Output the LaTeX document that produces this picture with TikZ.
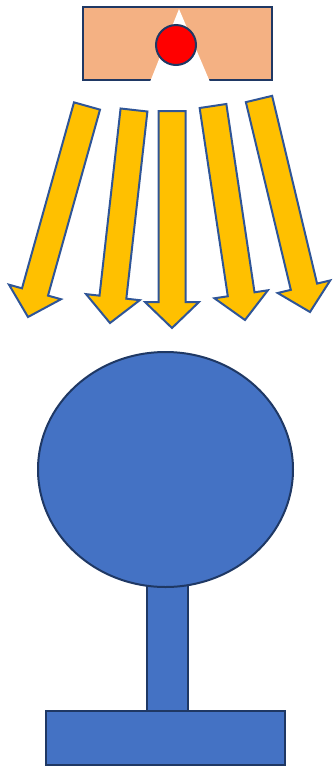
\documentclass[tikz,border=0pt]{standalone}
\usetikzlibrary{calc}
\definecolor{peach}{HTML}{F4B183}
\definecolor{navy}{HTML}{1F3864}
\definecolor{rayfill}{HTML}{FFC000}
\definecolor{rayedge}{HTML}{2F5597}
\definecolor{bodyblue}{HTML}{4472C4}
\tikzset{
  lamp/.style={fill=peach, draw=navy, line width=2.6pt},
  bulb/.style={fill=red, draw=navy, line width=2pt},
  ray/.style={fill=rayfill, draw=rayedge, line width=2pt, line join=miter},
  target/.style={fill=bodyblue, draw=navy, line width=2pt}
}
\begin{document}
\begin{tikzpicture}[x=1pt, y=-1pt]
  \useasboundingbox (0,0) rectangle (333,769);

  % lamp housing with opening
  \draw[lamp] (83,7) rectangle (272,80);
  \fill[white] (179,9) -- (150,82) -- (210,82) -- cycle;
  \draw[bulb] (176,45) circle (20);

  % rays
  \foreach \sx/\sy/\ex/\ey [count=\i] in
      {87/106/28/317, 134/110/110/323, 172/111/172/328, 213/106/245/320, 259/99/310/312} {
    \coordinate (s\i) at (\sx,\sy);
    \coordinate (e\i) at (\ex,\ey);
    \coordinate (h\i) at ($(e\i)!26pt!(s\i)$);
    \draw[ray] ($(s\i)!13.5pt!90:(e\i)$) -- ($(h\i)!13.5pt!90:(e\i)$)
      -- ($(h\i)!27pt!90:(e\i)$) -- (e\i) -- ($(h\i)!27pt!-90:(e\i)$)
      -- ($(h\i)!13.5pt!-90:(e\i)$) -- ($(s\i)!13.5pt!-90:(e\i)$) -- cycle;
  }

  % object on its stand
  \draw[target] (147,580) rectangle (188,711);
  \draw[target] (165.5,469.5) ellipse (127.5 and 117.5);
  \draw[target] (46,711) rectangle (285,765);
\end{tikzpicture}
\end{document}
